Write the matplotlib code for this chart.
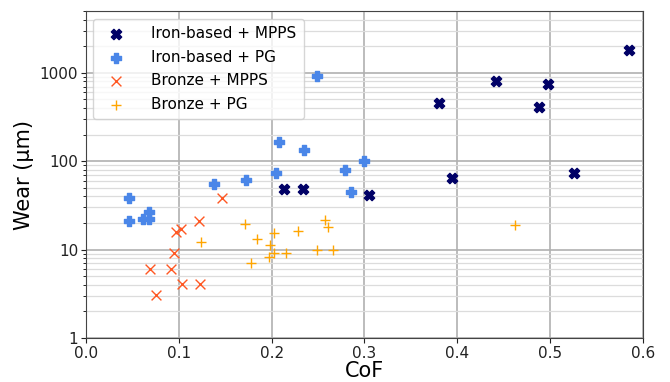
import matplotlib
matplotlib.use('Agg')
import matplotlib.pyplot as plt
from matplotlib.ticker import FuncFormatter, LogLocator, NullFormatter

# CoF and wear for each material / lubricant combination
iron_mpps_cof = [0.585, 0.442, 0.498, 0.380, 0.488, 0.394, 0.525, 0.305, 0.213, 0.234]
iron_mpps_wear = [1830, 800, 755, 460, 413, 65, 74, 41, 48, 49]

iron_pg_cof = [0.249, 0.208, 0.235, 0.299, 0.279, 0.205, 0.172, 0.1375, 0.286,
               0.047, 0.047, 0.062, 0.068, 0.068]
iron_pg_wear = [910, 165, 135, 100, 79, 73, 62, 56, 45, 38, 21, 22, 27, 22]

bronze_mpps_cof = [0.147, 0.122, 0.103, 0.097, 0.095, 0.069, 0.092, 0.104, 0.123, 0.076]
bronze_mpps_wear = [38, 21, 17, 16, 9.1, 6.1, 6.1, 4.05, 4.05, 3.05]

bronze_pg_cof = [0.171, 0.257, 0.261, 0.228, 0.203, 0.184, 0.124, 0.198, 0.249,
                 0.266, 0.203, 0.216, 0.197, 0.178, 0.462]
bronze_pg_wear = [19.3, 21.4, 18.2, 16.2, 15.3, 13.2, 12.2, 11.3, 10.0,
                  10.0, 9.2, 9.2, 8.3, 7.1, 19.1]

fig = plt.figure(figsize=(6.7, 3.82), dpi=100)
ax = fig.add_axes([0.128, 0.115, 0.832, 0.856])

ax.scatter(iron_mpps_cof, iron_mpps_wear, marker='X', s=55, color='#000066',
           label='Iron-based + MPPS', zorder=3)
ax.scatter(iron_pg_cof, iron_pg_wear, marker='P', s=60, color='#4a86e8',
           label='Iron-based + PG', zorder=3)
ax.scatter(bronze_mpps_cof, bronze_mpps_wear, marker='x', s=50, linewidths=1.0,
           color='#ff5722', label='Bronze + MPPS', zorder=3)
ax.scatter(bronze_pg_cof, bronze_pg_wear, marker='+', s=60, linewidths=1.0,
           color='#ffa500', label='Bronze + PG', zorder=3)

ax.set_yscale('log')
ax.set_xlim(0, 0.6)
ax.set_ylim(1, 5000)
ax.set_xticks([0.0, 0.1, 0.2, 0.3, 0.4, 0.5, 0.6])
ax.yaxis.set_major_locator(LogLocator(base=10, numticks=10))
ax.yaxis.set_minor_locator(LogLocator(base=10, subs=range(2, 10), numticks=20))
ax.yaxis.set_major_formatter(FuncFormatter(lambda v, p: '%g' % v))
ax.yaxis.set_minor_formatter(NullFormatter())

ax.grid(True, which='major', color='#b0b0b0', linewidth=1.2)
ax.grid(True, which='minor', axis='y', color='#dcdcdc', linewidth=0.9)
ax.set_axisbelow(True)

for s in ax.spines.values():
    s.set_color('#444444')
ax.tick_params(labelsize=11, colors='#222222', pad=2)

ax.set_xlabel('CoF', fontsize=15, labelpad=0)
ax.set_ylabel('Wear (µm)', fontsize=15)

ax.legend(loc='upper left', fontsize=11, borderaxespad=0.5,
          handletextpad=1.3, labelspacing=0.55, borderpad=0.5)

fig.savefig('out.png', dpi=100)
